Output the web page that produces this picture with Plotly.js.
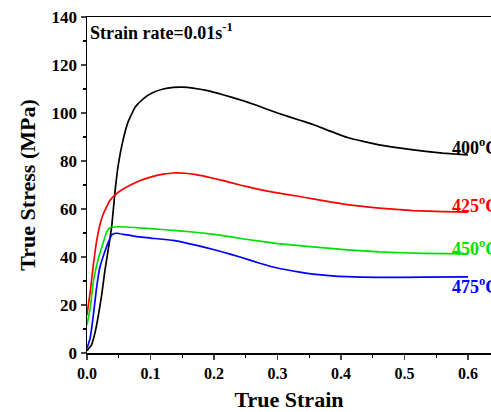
<!DOCTYPE html>
<html><head><meta charset="utf-8">
<script src="https://cdn.plot.ly/plotly-3.0.1.min.js"></script>
<style>html,body{margin:0;padding:0;overflow:hidden;background:#fff;width:491px;height:412px;}</style>
</head><body><div id="chart"></div>
<script>
const strain400 = [0, 0.003, 0.007, 0.013, 0.018, 0.023, 0.028, 0.034, 0.039, 0.044, 0.049, 0.057, 0.065, 0.076, 0.089, 0.104, 0.12, 0.136, 0.15, 0.167, 0.19, 0.214, 0.24, 0.267, 0.3, 0.335, 0.356, 0.41, 0.46, 0.514, 0.56, 0.6];
const stress400 = [1, 2, 3.3, 8.9, 15.8, 24, 34, 44, 53, 67, 78, 89, 96.5, 102.5, 106, 108.5, 110, 110.7, 110.8, 110.4, 109.3, 107.6, 105.6, 103.2, 100, 97, 95.2, 89.8, 86.7, 84.6, 83.3, 82.5];
const strain425 = [0, 0.005, 0.01, 0.015, 0.02, 0.025, 0.036, 0.047, 0.057, 0.07, 0.083, 0.1, 0.12, 0.136, 0.155, 0.17, 0.189, 0.215, 0.241, 0.267, 0.293, 0.335, 0.356, 0.41, 0.46, 0.514, 0.56, 0.6];
const stress425 = [15.8, 25.5, 36.7, 46.4, 53, 57.5, 63.5, 66.5, 68.3, 70.2, 71.8, 73.3, 74.5, 75, 74.9, 74.4, 73.4, 71.8, 70, 68.4, 67, 65.2, 64.2, 61.8, 60.4, 59.3, 58.9, 58.7];
const strain450 = [0, 0.005, 0.01, 0.018, 0.026, 0.031, 0.036, 0.049, 0.076, 0.1, 0.146, 0.178, 0.209, 0.25, 0.3, 0.335, 0.356, 0.41, 0.46, 0.53, 0.6];
const stress450 = [11.7, 18.7, 29.7, 39.5, 46.4, 50.5, 52.2, 52.6, 52.3, 51.8, 50.9, 50.1, 49.1, 47.4, 45.6, 44.7, 44.2, 43, 42.1, 41.5, 41.3];
const strain475 = [0, 0.005, 0.01, 0.015, 0.02, 0.028, 0.034, 0.039, 0.043, 0.047, 0.06, 0.076, 0.1, 0.136, 0.16, 0.189, 0.215, 0.241, 0.272, 0.3, 0.335, 0.356, 0.41, 0.46, 0.53, 0.6];
const stress475 = [2, 6.2, 15.8, 27, 35.4, 42.2, 46.4, 49.2, 49.8, 49.9, 49.3, 48.6, 47.9, 46.9, 45.6, 43.8, 42, 40, 37.4, 35.4, 33.7, 32.9, 31.8, 31.5, 31.6, 31.7];
const seriesNames = ['400<sup>o</sup>C', '425<sup>o</sup>C', '450<sup>o</sup>C', '475<sup>o</sup>C'];
const labelY = [86, 62, 44, 28];
const colors = ['#000000', '#ff0000', '#00e000', '#0000ff'];
const xTicks = [0, 0.1, 0.2, 0.3, 0.4, 0.5, 0.6];
const xTickText = ['0.0', '0.1', '0.2', '0.3', '0.4', '0.5', '0.6'];
const yTicks = [0, 20, 40, 60, 80, 100, 120, 140];

const F = 'Liberation Serif, Times New Roman, serif';
const xs = [strain400, strain425, strain450, strain475];
const ys = [stress400, stress425, stress450, stress475];
const data = xs.map((x, i) => ({
  x: x, y: ys[i], type: 'scatter', mode: 'lines', line: {color: colors[i], width: 1.7, shape: 'spline', smoothing: 0.4},
  name: seriesNames[i], showlegend: false, hoverinfo: 'skip'
}));
const ann = seriesNames.map((t, i) => ({
  x: 0.6, y: labelY[i], xref: 'x', yref: 'y', text: t, showarrow: false, xanchor: 'left', yanchor: 'middle',
  xshift: -18, font: {family: F, size: 18, color: colors[i], weight: 700}
}));
ann.push({x: 0.002, y: 140, xref: 'x', yref: 'y', text: 'Strain rate=0.01s<sup>-1</sup>', showarrow: false,
  xanchor: 'left', yanchor: 'top', yshift: -1, font: {family: F, size: 18, color: '#000', weight: 700}});
const layout = {
  width: 491, height: 412,
  margin: {l: 87, r: 0, t: 17, b: 59},
  paper_bgcolor: '#fff', plot_bgcolor: '#fff',
  xaxis: {range: [0, 0.6362], tickvals: xTicks, ticktext: xTickText, ticks: 'outside', ticklen: 5, tickwidth: 1.2,
    minor: {dtick: 0.05, tick0: 0, ticks: 'outside', ticklen: 3, tickwidth: 1.2, tickcolor: '#000', showgrid: false},
    showline: true, linecolor: '#000', linewidth: 1.5, mirror: true, showgrid: false, zeroline: false,
    tickfont: {family: F, size: 16, color: '#000', weight: 700},
    title: {text: 'True Strain', font: {family: F, size: 22, color: '#000', weight: 700}, standoff: 12}},
  yaxis: {range: [0, 140], tickvals: yTicks, ticks: 'outside', ticklen: 5, tickwidth: 1.2,
    minor: {dtick: 10, tick0: 0, ticks: 'outside', ticklen: 3, tickwidth: 1.2, tickcolor: '#000', showgrid: false},
    showline: true, linecolor: '#000', linewidth: 1.5, mirror: false, showgrid: false, zeroline: false,
    tickfont: {family: F, size: 17, color: '#000', weight: 700},
    title: {text: 'True Stress (MPa)', font: {family: F, size: 22, color: '#000', weight: 700}, standoff: 10}},
  annotations: ann
};
Plotly.newPlot('chart', data, layout, {staticPlot: true, displayModeBar: false});
</script></body></html>
